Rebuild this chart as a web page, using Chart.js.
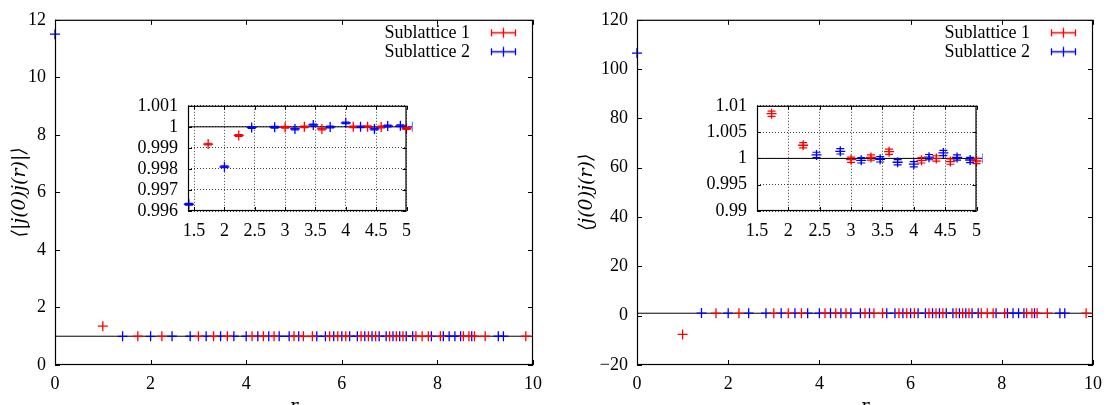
<!DOCTYPE html>
<html><head><meta charset="utf-8">
<script src="https://cdn.jsdelivr.net/npm/chart.js@4.4.1/dist/chart.umd.min.js"></script>
<style>
html,body{margin:0;padding:0;background:#fff;overflow:hidden;width:1110px;height:405px}
#wrap{position:relative;width:1110px;height:405px;overflow:hidden}
canvas{position:absolute;display:block}
</style></head><body>
<div id="wrap">
<canvas id="mainL" width="560" height="420" style="left:0;top:0;width:560px;height:420px"></canvas>
<canvas id="mainR" width="550" height="420" style="left:560px;top:0;width:550px;height:420px"></canvas>
<canvas id="insL" width="320" height="170" style="left:100px;top:85px;width:320px;height:170px"></canvas>
<canvas id="insR" width="325" height="170" style="left:665px;top:85px;width:325px;height:170px"></canvas>
</div>
<script>
// ---------------- DATA ----------------
const seriesNames = ['Sublattice 1', 'Sublattice 2'];
// distances r for sublattice 1 (red) and sublattice 2 (blue)
const rRed = [1, 1.732, 2.236, 3, 3.317, 3.606, 4.123, 4.359, 4.583, 5, 5.196, 5.385, 5.745, 5.916, 6.083, 6.403, 6.557, 6.708, 7, 7.141, 7.280, 7.550, 7.681, 7.810, 8.062, 8.544, 8.660, 8.775, 9, 9.849];
const rBlue = [0, 1.414, 2, 2.449, 2.828, 3.162, 3.464, 3.742, 4, 4.243, 4.472, 4.690, 4.899, 5.099, 5.477, 5.657, 5.831, 6, 6.164, 6.325, 6.481, 6.633, 6.782, 6.928, 7.071, 7.211, 7.348, 7.483, 7.874, 8.124, 8.246, 8.367, 8.485, 8.718, 9.274, 9.381];
// left panel  <|j(0)j(r)|>
const leftRed = [1.35, 0.99918, 0.99959, 0.99998, 1.0000, 0.99990, 1.0000, 1.00001, 0.99999, 0.99992, 1, 1, 1, 1, 1, 1, 1, 1, 1, 1, 1, 1, 1, 1, 1, 1, 1, 1, 1, 1];
const leftBlue = [11.5, 0.99632, 0.99810, 0.99997, 0.99998, 0.99990, 1.00009, 0.99999, 1.00019, 1.00000, 0.99990, 1.00004, 1.00005, 1, 1, 1, 1, 1, 1, 1, 1, 1, 1, 1, 1, 1, 1, 1, 1, 1, 1, 1, 1, 1, 1, 1];
// right panel <j(0)j(r)>
const rightRed = [-7.6, 1.0085, 1.0025, 0.99976, 1.00018, 1.00128, 0.99963, 1.00000, 0.99939, 0.99951, 1, 1, 1, 1, 1, 1, 1, 1, 1, 1, 1, 1, 1, 1, 1, 1, 1, 1, 1, 1];
const rightBlue = [106.5, 1.05, 1.016, 1.00067, 1.00134, 0.99963, 0.99982, 0.99927, 0.99890, 1.00024, 1.00104, 1.00018, 0.99970, 1, 1, 1, 1, 1, 1, 1, 1, 1, 1, 1, 1, 1, 1, 1, 1, 1, 1, 1, 1, 1, 1, 1];
const refLevel = 1;
// tick values
const mainXTicks = [0, 2, 4, 6, 8, 10];
const leftYTicks = [0, 2, 4, 6, 8, 10, 12];
const rightYTicks = [-20, 0, 20, 40, 60, 80, 100, 120];
const insLXTicks = [1.5, 2, 2.5, 3, 3.5, 4, 4.5, 5];
const insLYTicks = [0.996, 0.997, 0.998, 0.999, 1, 1.001];
const insRXTicks = [1.5, 2, 2.5, 3, 3.5, 4, 4.5, 5];
const insRYTicks = [0.99, 0.995, 1, 1.005, 1.01];
const insLErr = 0.00004;
const insRErr = 0.0005;

// ---------------- STYLE ----------------
const FONT = "'Liberation Serif', 'DejaVu Serif', serif";
const TITLEFONT = "'DejaVu Serif', 'Liberation Serif', serif";
const RED = '#ff0000', BLUE = '#0000ff';
Chart.defaults.font.family = FONT;
Chart.defaults.color = '#000';

function pts(xs, ys) { return xs.map((x, i) => ({ x: x, y: ys[i] })); }
function fmt(v) { return String(Math.round(v * 1e6) / 1e6).replace('-', '\u2212'); }
function setTicks(arr) { return function (s) { s.ticks = arr.map(v => ({ value: v })); }; }

function glyph(color) {
  const c = document.createElement('canvas');
  c.width = 53; c.height = 13;
  const g = c.getContext('2d');
  g.strokeStyle = color; g.lineWidth = 1.3;
  g.beginPath();
  g.moveTo(12, 6.5); g.lineTo(37, 6.5);
  g.moveTo(12.5, 3); g.lineTo(12.5, 10);
  g.moveTo(36.5, 3); g.lineTo(36.5, 10);
  g.moveTo(24.5, 1.5); g.lineTo(24.5, 11.5);
  g.stroke();
  return c;
}
const glyphs = [glyph(RED), glyph(BLUE)];

const framePlugin = {
  id: 'frameTicks',
  beforeDatasetsDraw(chart, args, opts) {
    const { ctx, chartArea: a, scales } = chart;
    const y = scales.y.getPixelForValue(refLevel);
    if (y >= a.top && y <= a.bottom) {
      ctx.save();
      ctx.strokeStyle = '#000'; ctx.lineWidth = 1;
      ctx.beginPath(); ctx.moveTo(a.left, y); ctx.lineTo(a.right, y); ctx.stroke();
      ctx.restore();
    }
  },
  afterDatasetsDraw(chart, args, opts) {
    const { ctx, chartArea: a, scales } = chart;
    const len = opts.len || 5;
    ctx.save();
    ctx.strokeStyle = '#000'; ctx.lineWidth = 1;
    ctx.beginPath();
    scales.x.ticks.forEach(t => {
      const p = Math.round(scales.x.getPixelForValue(t.value)) + 0.5;
      ctx.moveTo(p, a.bottom); ctx.lineTo(p, a.bottom - len);
      ctx.moveTo(p, a.top); ctx.lineTo(p, a.top + len);
    });
    scales.y.ticks.forEach(t => {
      const p = Math.round(scales.y.getPixelForValue(t.value)) + 0.5;
      ctx.moveTo(a.left, p); ctx.lineTo(a.left + len, p);
      ctx.moveTo(a.right, p); ctx.lineTo(a.right - len, p);
    });
    ctx.stroke();
    ctx.lineWidth = 1.2;
    ctx.strokeRect(a.left + 0.5, a.top + 0.5, a.width - 1, a.height - 1);
    ctx.restore();
  }
};

const errPlugin = {
  id: 'errBars',
  afterDatasetsDraw(chart, args, opts) {
    if (!opts.err) return;
    const { ctx, chartArea: a, scales } = chart;
    ctx.save();
    ctx.beginPath(); ctx.rect(a.left - 6, a.top - 6, a.width + 12, a.height + 12); ctx.clip();
    chart.data.datasets.forEach(ds => {
      ctx.strokeStyle = ds.borderColor; ctx.lineWidth = 1.2;
      ds.data.forEach(p => {
        const x = scales.x.getPixelForValue(p.x);
        if (x < a.left - 6 || x > a.right + 6) return;
        const y1 = scales.y.getPixelForValue(p.y - opts.err);
        const y2 = scales.y.getPixelForValue(p.y + opts.err);
        ctx.beginPath();
        ctx.moveTo(x, y1); ctx.lineTo(x, y2);
        ctx.moveTo(x - 4, y1); ctx.lineTo(x + 4, y1);
        ctx.moveTo(x - 4, y2); ctx.lineTo(x + 4, y2);
        ctx.stroke();
      });
    });
    ctx.restore();
  }
};

// place the key box inside the top-right corner of the plot area
const legendPlace = {
  id: 'legendPlace',
  beforeDraw(chart, args, opts) {
    const l = chart.legend, a = chart.chartArea;
    if (!l || !l.options.display) return;
    const w = l.width, h = l.height;
    l.left = a.right - w; l.right = a.right;
    l.top = a.top + (opts.dy || 0); l.bottom = l.top + h;
  }
};

function datasets(ys1, ys2) {
  return [
    { label: seriesNames[0], data: pts(rRed, ys1), borderColor: RED, backgroundColor: RED, pointStyle: 'cross', pointRadius: 5, pointBorderWidth: 1.3, showLine: false, clip: 6 },
    { label: seriesNames[1], data: pts(rBlue, ys2), borderColor: BLUE, backgroundColor: BLUE, pointStyle: 'cross', pointRadius: 5, pointBorderWidth: 1.3, showLine: false, clip: 6 }
  ];
}

function mainChart(id, ys1, ys2, yMin, yMax, yTicks, yTitle, yWidth, padRight, titlePad) {
  return new Chart(document.getElementById(id), {
    type: 'scatter',
    data: { datasets: datasets(ys1, ys2) },
    plugins: [framePlugin, legendPlace],
    options: {
      responsive: false, animation: false, events: [],
      layout: { padding: { left: 0, top: 17, right: padRight, bottom: 0 } },
      scales: {
        x: {
          type: 'linear', min: 0, max: 10, afterBuildTicks: setTicks(mainXTicks),
          grid: { display: false, drawTicks: false }, border: { display: false },
          ticks: { padding: 8, font: { size: 18 }, color: '#000', callback: fmt, maxRotation: 0 },
          title: { display: true, text: 'r', font: { family: TITLEFONT, size: 17, style: 'italic' }, padding: { top: 0, bottom: 3 }, color: '#000' },
          afterFit: s => { s.height = 55; }
        },
        y: {
          type: 'linear', min: yMin, max: yMax, afterBuildTicks: setTicks(yTicks),
          grid: { display: false, drawTicks: false }, border: { display: false },
          ticks: { padding: 9, font: { size: 18 }, color: '#000', callback: fmt },
          title: { display: true, text: yTitle, font: { family: TITLEFONT, size: 19, style: 'italic' }, padding: { top: titlePad, bottom: 0 }, color: '#000' },
          afterFit: s => { s.width = yWidth; }
        }
      },
      plugins: {
        tooltip: { enabled: false },
        frameTicks: { len: 5 },
        legendPlace: { dy: 3 },
        legend: {
          position: 'chartArea', align: 'start', rtl: true,
          labels: {
            usePointStyle: true, pointStyleWidth: 53, boxHeight: 13, padding: 1,
            font: { size: 18 }, color: '#000',
            generateLabels: (chart) => chart.data.datasets.map((d, i) => ({
              text: d.label, pointStyle: glyphs[i], fillStyle: d.borderColor, strokeStyle: d.borderColor,
              lineWidth: 0, hidden: false, datasetIndex: i, fontColor: '#000'
            }))
          }
        }
      }
    }
  });
}

function insetChart(id, ys1, ys2, xMin, xMax, xTicks, yMin, yMax, yTicks, yWidth, padRight, err) {
  return new Chart(document.getElementById(id), {
    type: 'scatter',
    data: { datasets: datasets(ys1, ys2) },
    plugins: [framePlugin, errPlugin],
    options: {
      responsive: false, animation: false, events: [],
      layout: { padding: { left: 0, top: 16, right: padRight, bottom: 0 } },
      scales: {
        x: {
          type: 'linear', min: xMin, max: xMax, afterBuildTicks: setTicks(xTicks),
          grid: { display: true, drawTicks: false, color: 'rgba(0,0,0,0.75)', lineWidth: 1 },
          border: { display: false, dash: [1, 2] },
          ticks: { padding: 9, font: { size: 18 }, color: '#000', callback: fmt, maxRotation: 0, autoSkip: false },
          afterFit: s => { s.height = 44; }
        },
        y: {
          type: 'linear', min: yMin, max: yMax, afterBuildTicks: setTicks(yTicks),
          grid: { display: true, drawTicks: false, color: 'rgba(0,0,0,0.75)', lineWidth: 1 },
          border: { display: false, dash: [1, 2] },
          ticks: { padding: 10, font: { size: 18 }, color: '#000', callback: fmt, autoSkip: false },
          afterFit: s => { s.width = yWidth; }
        }
      },
      plugins: {
        tooltip: { enabled: false },
        legend: { display: false },
        frameTicks: { len: 4 },
        errBars: { err: err }
      }
    }
  });
}

mainChart('mainL', leftRed, leftBlue, 0, 12, leftYTicks, '\u27E8|j(0)j(r)|\u27E9', 55, 27, 9);
mainChart('mainR', rightRed, rightBlue, -20, 120, rightYTicks, '\u27E8j(0)j(r)\u27E9', 77, 13, 16);
insetChart('insL', leftRed, leftBlue, 1.4, 5, insLXTicks, 0.996, 1.001, insLYTicks, 88, 12, insLErr);
insetChart('insR', rightRed, rightBlue, 1.5, 5, insRXTicks, 0.99, 1.01, insRYTicks, 92, 11, insRErr);
</script>
</body></html>
